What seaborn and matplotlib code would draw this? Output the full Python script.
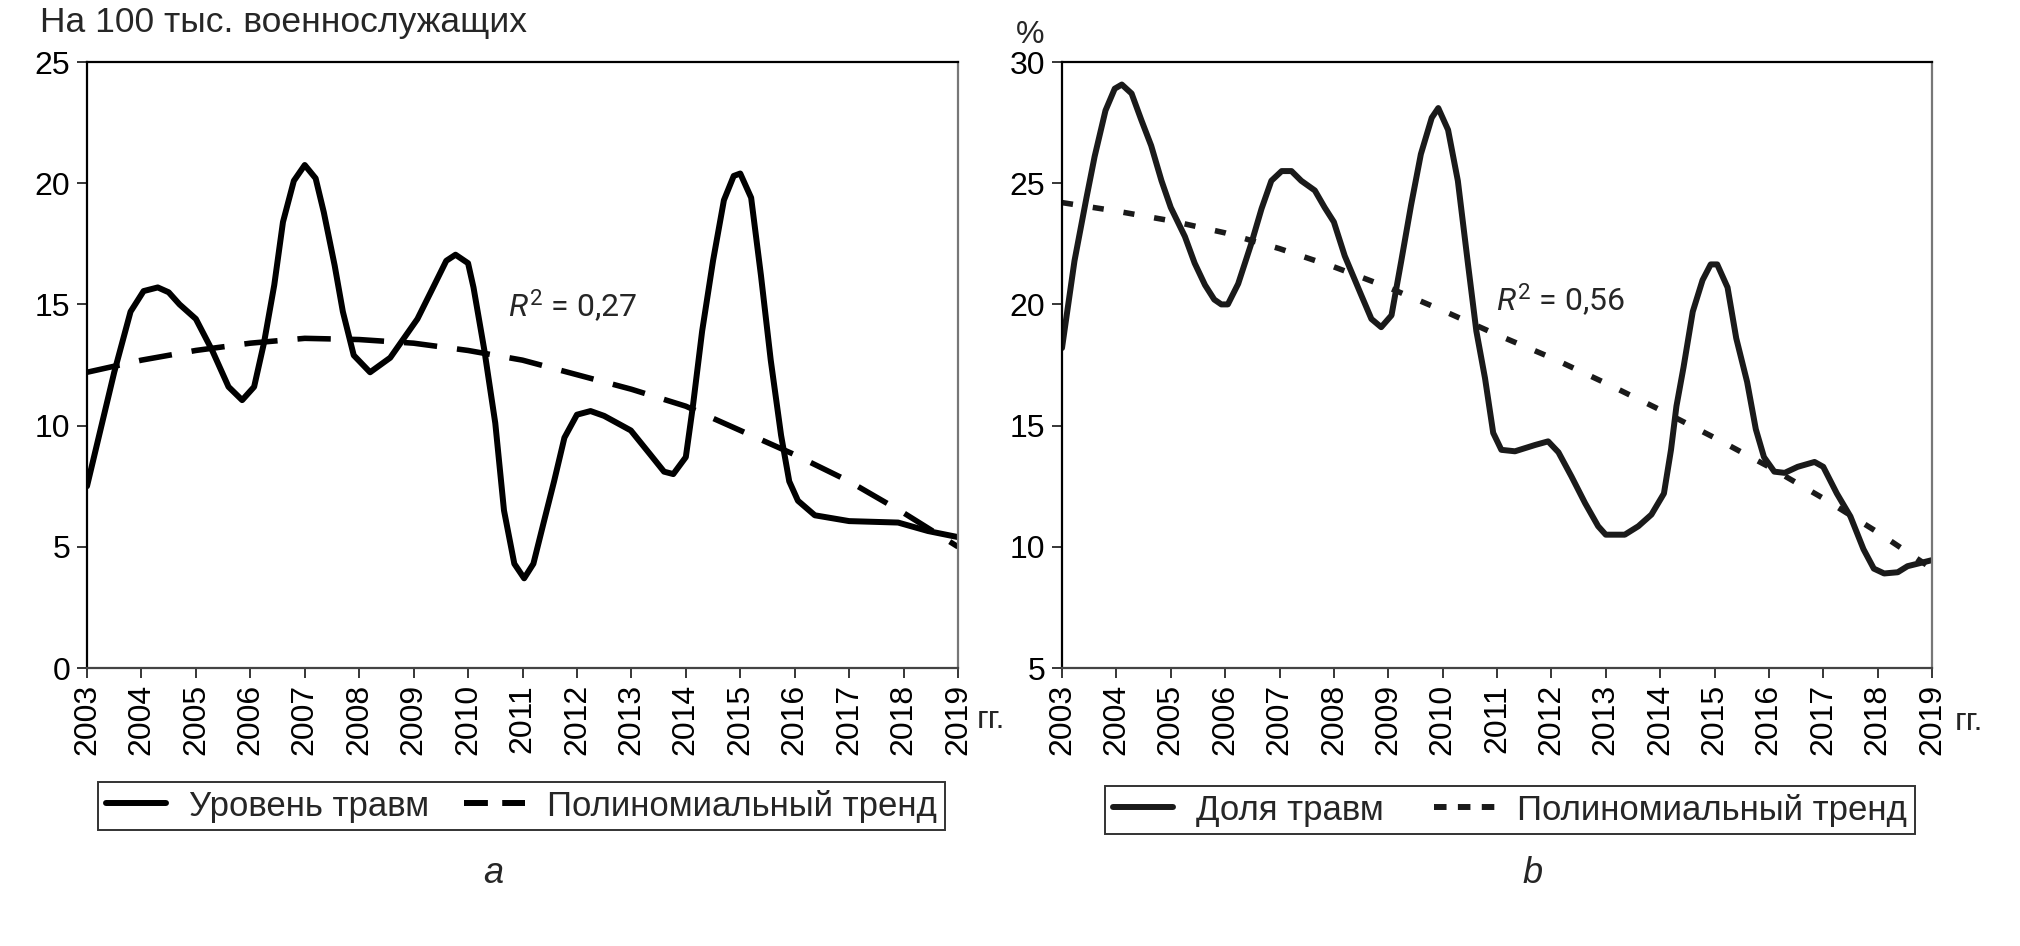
import numpy as np
import pandas as pd
import matplotlib
matplotlib.use('Agg')
import matplotlib.pyplot as plt
import seaborn as sns
from matplotlib.lines import Line2D

# panel a: injury rate per 100k servicemen
rate_years = [2003.00, 2003.50, 2003.80, 2004.04, 2004.30, 2004.50, 2004.70, 2005.00, 2005.30,
              2005.60, 2005.85, 2006.07, 2006.25, 2006.44, 2006.60, 2006.80, 2007.00, 2007.20,
              2007.35, 2007.55, 2007.70, 2007.90, 2008.20, 2008.57, 2009.07, 2009.38, 2009.60,
              2009.77, 2010.00, 2010.10, 2010.30, 2010.50, 2010.66, 2010.85, 2011.03, 2011.20,
              2011.40, 2011.58, 2011.77, 2012.00, 2012.25, 2012.50, 2012.99, 2013.35, 2013.60,
              2013.77, 2014.00, 2014.13, 2014.30, 2014.50, 2014.70, 2014.88, 2015.00, 2015.20,
              2015.38, 2015.56, 2015.75, 2015.90, 2016.06, 2016.37, 2017.00, 2017.90, 2018.45,
              2019.00]
rate_vals = [7.5, 12.2, 14.7, 15.55, 15.7, 15.5, 15.0, 14.4, 13.1,
             11.6, 11.05, 11.6, 13.4, 15.8, 18.4, 20.1, 20.75, 20.2,
             18.8, 16.6, 14.7, 12.9, 12.2, 12.8, 14.4, 15.8, 16.8,
             17.05, 16.7, 15.7, 13.1, 10.1, 6.5, 4.3, 3.7, 4.3,
             6.1, 7.7, 9.5, 10.45, 10.6, 10.4, 9.8, 8.8, 8.1,
             8.0, 8.7, 10.8, 13.9, 16.8, 19.3, 20.3, 20.4, 19.4,
             16.2, 12.7, 9.6, 7.7, 6.9, 6.3, 6.06, 6.0, 5.65,
             5.4]

# panel b: share of injuries, %
share_years = [2003.00, 2003.23, 2003.45, 2003.60, 2003.80, 2003.97, 2004.10, 2004.28, 2004.46,
               2004.64, 2004.83, 2005.00, 2005.26, 2005.44, 2005.63, 2005.80, 2005.93, 2006.05,
               2006.24, 2006.48, 2006.67, 2006.85, 2007.04, 2007.22, 2007.40, 2007.65, 2007.83,
               2008.00, 2008.20, 2008.50, 2008.69, 2008.87, 2009.06, 2009.24, 2009.42, 2009.60,
               2009.80, 2009.92, 2010.10, 2010.28, 2010.47, 2010.62, 2010.78, 2010.93, 2011.08,
               2011.33, 2011.70, 2011.94, 2012.13, 2012.37, 2012.62, 2012.86, 2013.00, 2013.35,
               2013.60, 2013.84, 2014.07, 2014.20, 2014.30, 2014.43, 2014.60, 2014.78, 2014.93,
               2015.05, 2015.24, 2015.40, 2015.60, 2015.76, 2015.91, 2016.10, 2016.29, 2016.53,
               2016.84, 2017.00, 2017.25, 2017.50, 2017.74, 2017.93, 2018.12, 2018.37, 2018.55,
               2019.00]
share_vals = [18.2, 21.8, 24.4, 26.1, 28.0, 28.9, 29.07, 28.7, 27.6,
              26.55, 25.1, 24.0, 22.8, 21.7, 20.8, 20.2, 20.0, 20.0,
              20.85, 22.5, 23.95, 25.1, 25.5, 25.5, 25.1, 24.7, 24.0,
              23.4, 22.0, 20.4, 19.4, 19.06, 19.55, 21.8, 24.1, 26.2,
              27.7, 28.1, 27.2, 25.1, 21.6, 18.9, 16.95, 14.7, 14.0,
              13.94, 14.2, 14.35, 13.9, 12.9, 11.8, 10.85, 10.5, 10.5,
              10.85, 11.33, 12.2, 14.0, 15.8, 17.4, 19.7, 21.0, 21.65,
              21.65, 20.7, 18.6, 16.8, 14.85, 13.7, 13.1, 13.05, 13.3,
              13.5, 13.3, 12.2, 11.25, 9.9, 9.1, 8.9, 8.95, 9.2,
              9.45]

# polynomial trends at each year
years = list(range(2003, 2020))
rate_trend = [12.2, 12.7, 13.1, 13.4, 13.6, 13.55, 13.4, 13.1, 12.7,
              12.1, 11.5, 10.8, 9.8, 8.8, 7.7, 6.4, 5.0]
share_trend = [24.2, 23.85, 23.45, 22.95, 22.3, 21.55, 20.7, 19.75, 18.75,
               17.8, 16.75, 15.65, 14.5, 13.3, 12.0, 10.6, 9.1]

sns.set_style('white')
plt.rcParams['font.family'] = ['Liberation Sans', 'DejaVu Sans']
plt.rcParams['mathtext.fontset'] = 'custom'
plt.rcParams['mathtext.it'] = 'Roboto:italic'
plt.rcParams['mathtext.rm'] = 'Roboto'

FS_TICK = 23
FS_TEXT = 25
W, H = 2020, 946
fig = plt.figure(figsize=(W / 100, H / 100), dpi=100)
ax1 = fig.add_axes([87 / W, 1 - 668 / H, 871 / W, 606 / H])
ax2 = fig.add_axes([1062 / W, 1 - 668 / H, 870 / W, 606 / H])

df_a = pd.DataFrame({'year': rate_years, 'val': rate_vals})
df_at = pd.DataFrame({'year': years, 'val': rate_trend})
df_b = pd.DataFrame({'year': share_years, 'val': share_vals})
df_bt = pd.DataFrame({'year': years, 'val': share_trend})

sns.lineplot(data=df_at, x='year', y='val', ax=ax1, color='black', linewidth=4.0,
             linestyle=(0, (6.0, 3.6)), estimator=None, legend=False)
sns.lineplot(data=df_a, x='year', y='val', ax=ax1, color='black', linewidth=4.3,
             estimator=None, legend=False, solid_joinstyle='round')
sns.lineplot(data=df_bt, x='year', y='val', ax=ax2, color='#1a1a1a', linewidth=4.0,
             linestyle=(0, (2.0, 3.6)), estimator=None, legend=False)
sns.lineplot(data=df_b, x='year', y='val', ax=ax2, color='#1a1a1a', linewidth=4.3,
             estimator=None, legend=False, solid_joinstyle='round')

for ax, (y0, y1) in [(ax1, (0, 25)), (ax2, (5, 30))]:
    ax.set_xlim(2003, 2019)
    ax.set_ylim(y0, y1)
    ax.set_xticks(years)
    ax.set_xticklabels([str(y) for y in years], rotation=90, fontsize=FS_TICK)
    ax.set_yticks(np.arange(y0, y1 + 1, 5))
    ax.set_yticklabels([str(v) for v in range(y0, y1 + 1, 5)], fontsize=FS_TICK)
    ax.tick_params(axis='x', direction='out', length=7.2, width=1.1, pad=4.3, colors='black',
                   bottom=True)
    ax.tick_params(axis='y', direction='out', length=7.2, width=1.1, pad=5.0, colors='black',
                   left=True)
    ax.set_xlabel('')
    ax.set_ylabel('')
    ax.spines['left'].set_color('black')
    ax.spines['top'].set_color('black')
    ax.spines['bottom'].set_color('#444444')
    ax.spines['right'].set_color('#777777')
    for s in ax.spines.values():
        s.set_linewidth(1.6)

fig.text(40 / W, 1 - 32 / H, 'На 100 тыс. военнослужащих', fontsize=25.5, va='baseline')
fig.text(1016 / W, 1 - 43 / H, '%', fontsize=FS_TICK, va='baseline')
fig.text(977 / W, 1 - 728 / H, 'гг.', fontsize=FS_TICK, va='baseline')
fig.text(1955 / W, 1 - 730 / H, 'гг.', fontsize=FS_TICK, va='baseline')
fig.text(493 / W, 1 - 873 / H, 'a', fontsize=26, style='italic', ha='center', va='center')
fig.text(1533 / W, 1 - 873 / H, 'b', fontsize=26, style='italic', ha='center', va='center')
fig.text(508 / W, 1 - 318 / H, r'$R^2$ = 0,27', fontsize=23, family='Roboto', va='baseline')
fig.text(1496 / W, 1 - 312 / H, r'$R^2$ = 0,56', fontsize=23, family='Roboto', va='baseline')

h_a = [Line2D([], [], color='black', lw=4.3),
       Line2D([], [], color='black', lw=4.3, linestyle=(0, (4.0, 2.4)))]
h_b = [Line2D([], [], color='#1a1a1a', lw=4.3),
       Line2D([], [], color='#1a1a1a', lw=4.3, linestyle=(0, (2.1, 1.9)))]

leg_kw = dict(ncol=2, fontsize=FS_TEXT, loc='upper left', bbox_transform=fig.transFigure,
              borderaxespad=0, frameon=True, fancybox=False, handlelength=1.75,
              handletextpad=0.65, borderpad=0.22)
leg1 = ax1.legend(h_a, ['Уровень травм', 'Полиномиальный тренд'],
                  bbox_to_anchor=(98 / W, 1 - 782 / H), columnspacing=1.0, **leg_kw)
leg2 = ax2.legend(h_b, ['Доля травм', 'Полиномиальный тренд'],
                  bbox_to_anchor=(1105 / W, 1 - 786 / H), columnspacing=1.45, **leg_kw)
for leg in (leg1, leg2):
    leg.get_frame().set_edgecolor('black')
    leg.get_frame().set_linewidth(1.4)

fig.savefig('out.png', dpi=100, facecolor='white')
